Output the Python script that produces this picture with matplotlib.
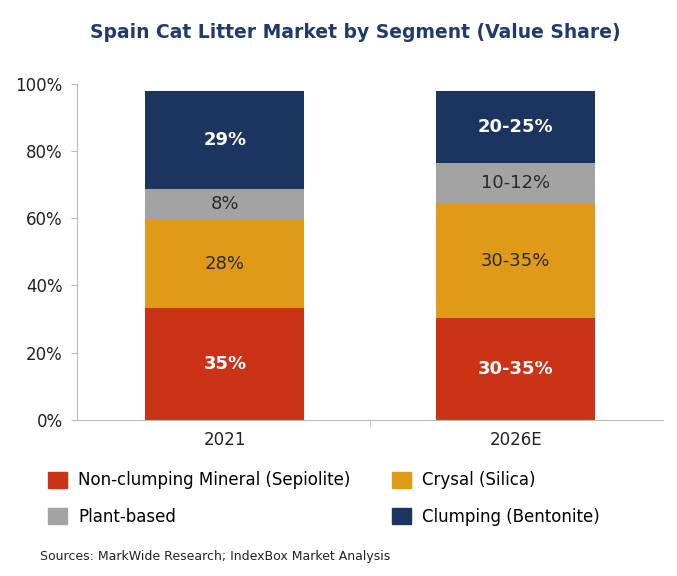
import numpy as np
import matplotlib.pyplot as plt
from matplotlib.patches import Patch

years = ['2021', '2026E']
segments = ['Non-clumping Mineral (Sepiolite)', 'Crysal (Silica)', 'Plant-based', 'Clumping (Bentonite)']
# drawn heights and the printed labels
non_clumping = [33.2, 30.2]
crystal = [26.4, 34.0]
plant = [8.9, 12.3]
clumping = [29.2, 21.2]
labels_2021 = ['35%', '28%', '8%', '29%']
labels_2026 = ['30-35%', '30-35%', '10-12%', '20-25%']

colors = ['#CB3216', '#E09A17', '#A3A3A3', '#1C3560']
text_colors = ['white', '#2a2a2a', '#2a2a2a', 'white']

fig = plt.figure(figsize=(6.77, 5.76), dpi=100)
ax = fig.add_axes([0.113, 0.271, 0.866, 0.584])

x = np.arange(len(years))
series = [non_clumping, crystal, plant, clumping]
bar_labels = [[labels_2021[i], labels_2026[i]] for i in range(4)]
bottom = np.zeros(len(years))
for vals, col, tc, labs in zip(series, colors, text_colors, bar_labels):
    bars = ax.bar(x, vals, bottom=bottom, width=0.546, color=col)
    for b, v, bt, lab in zip(bars, vals, bottom, labs):
        ax.text(b.get_x() + b.get_width() / 2, bt + v / 2, lab,
                ha='center', va='center', color=tc, fontsize=13,
                fontweight='bold' if tc == 'white' else 'normal')
    bottom += np.array(vals)

ax.set_xlim(-0.51, 1.505)
ax.set_ylim(0, 100)
ax.set_yticks([0, 20, 40, 60, 80, 100])
ax.set_yticklabels(['0%', '20%', '40%', '60%', '80%', '100%'], fontsize=12, color='#222222')
ax.set_xticks(x)
ax.set_xticklabels(years, fontsize=12, color='#222222')
ax.set_xticks([0.5], minor=True)
ax.tick_params(axis='x', which='major', length=0, pad=8)
ax.tick_params(axis='x', which='minor', length=4, color='#bbbbbb')
ax.tick_params(axis='y', length=4, color='#bbbbbb', pad=6)
for s in ['top', 'right']:
    ax.spines[s].set_visible(False)
for s in ['left', 'bottom']:
    ax.spines[s].set_color('#bbbbbb')

fig.text(0.525, 0.944, 'Spain Cat Litter Market by Segment (Value Share)',
         ha='center', va='center', fontsize=13.5, fontweight='bold', color='#1F3A6E')

handles = [Patch(color=c) for c in colors]
order = [0, 2, 1, 3]
fig.legend([handles[i] for i in order], [segments[i] for i in order],
           ncol=2, loc='upper left', bbox_to_anchor=(0.049, 0.208),
           frameon=False, fontsize=12, handlelength=1.1, handleheight=1.1,
           columnspacing=2.5, labelspacing=1.1, handletextpad=0.7)

fig.text(0.059, 0.034, 'Sources: MarkWide Research; IndexBox Market Analysis',
         fontsize=9, color='#222222', va='center')

fig.savefig('out.png', dpi=100)
